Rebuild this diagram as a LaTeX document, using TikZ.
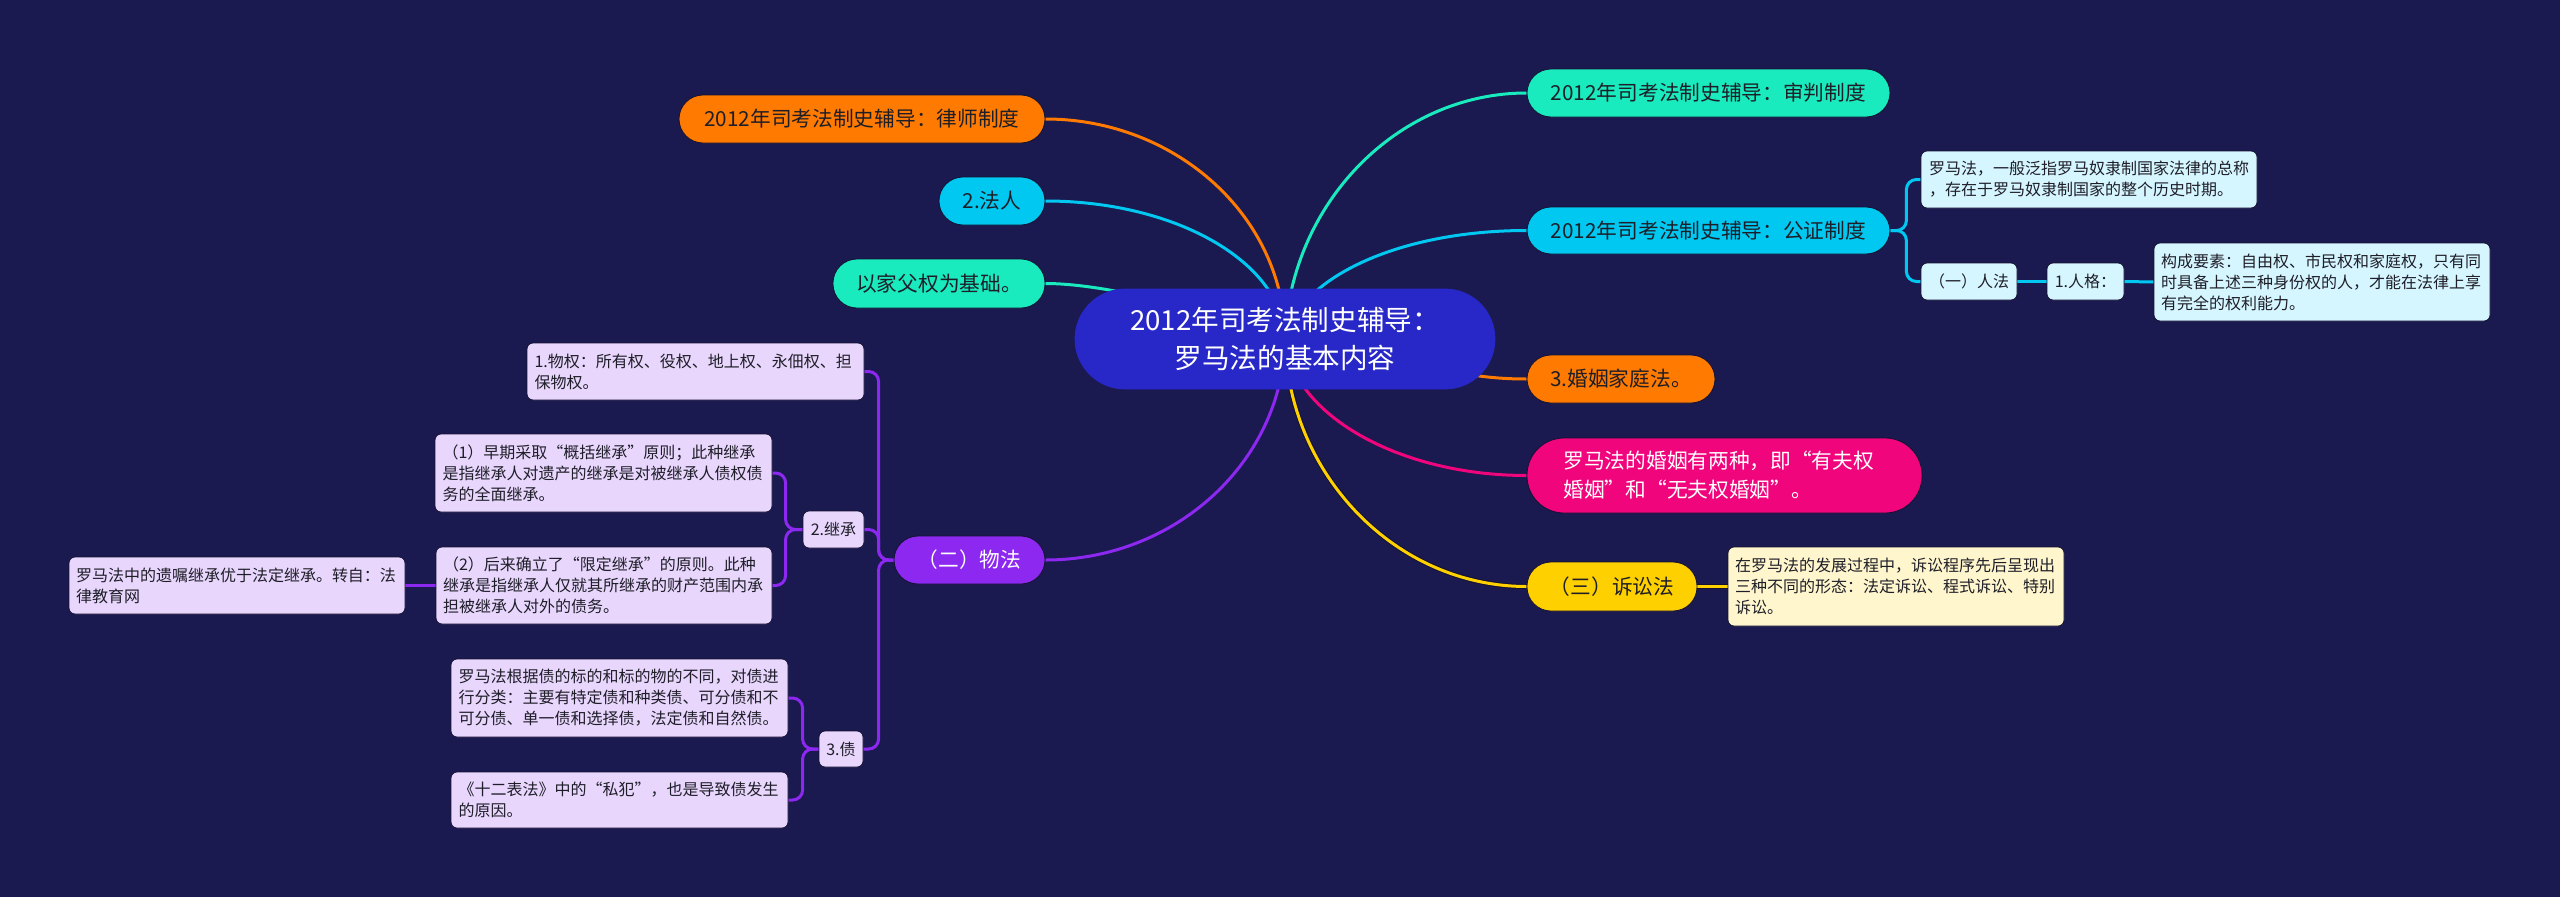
\documentclass[tikz,border=0pt]{standalone}
\usepackage{fontspec}
\setmainfont{Noto Sans CJK SC}
\usetikzlibrary{calc}
\pgfdeclarelayer{bgfill}
\pgfdeclarelayer{edges}
\pgfsetlayers{bgfill,edges,main}
\definecolor{bgc}{RGB}{26,25,80}
\definecolor{rootc}{RGB}{40,40,200}
\definecolor{orangec}{RGB}{255,122,0}
\definecolor{cyanc}{RGB}{0,200,240}
\definecolor{tealc}{RGB}{25,235,190}
\definecolor{pinkc}{RGB}{240,5,125}
\definecolor{yellowc}{RGB}{255,208,0}
\definecolor{purplec}{RGB}{140,40,240}
\definecolor{lavc}{RGB}{232,214,252}
\definecolor{lcyanc}{RGB}{214,246,255}
\definecolor{lyelc}{RGB}{255,246,205}
\definecolor{txtdark}{RGB}{30,30,40}
\definecolor{edgedark}{RGB}{20,18,50}
\tikzset{
  base/.style={rectangle, inner sep=0pt, align=center, draw=edgedark, line width=0.8pt},
  pill/.style={base, rounded corners=24pt, font=\fontsize{20.7}{29}\selectfont, text=txtdark},
  sbox/.style={base, rounded corners=6pt, font=\fontsize{16}{21}\selectfont, text=txtdark},
  conn/.style={line width=3pt},
  elbow/.style={line width=3pt, rounded corners=10pt},
}
\begin{document}
\begin{tikzpicture}[x=1pt,y=-1pt]
\begin{pgfonlayer}{bgfill}
\fill[bgc] (0,0) rectangle (2560,897);
\end{pgfonlayer}
\useasboundingbox (0,0) rectangle (2560,897);

% root
\node[base, fill=rootc, draw=rootc, rounded corners=50pt, minimum width=420, minimum height=100,
      text=white, font=\fontsize{27.6}{38}\selectfont] (root) at (1285,339)
      {2012年司考法制史辅导：\\罗马法的基本内容};

% left main branches
\node[pill, fill=orangec, minimum width=366, minimum height=48] (lawyer) at (862,119) {2012年司考法制史辅导：律师制度};
\node[pill, fill=cyanc, minimum width=106, minimum height=48] (faren) at (992,201) {2.法人};
\node[pill, fill=tealc, minimum width=212, minimum height=49] (jiafu) at (939,283.5) {以家父权为基础。};
\node[pill, fill=purplec, text=white, minimum width=151, minimum height=48] (wufa) at (969.5,560) {（二）物法};

% right main branches
\node[pill, fill=tealc, minimum width=363, minimum height=48] (shenpan) at (1708.5,93) {2012年司考法制史辅导：审判制度};
\node[pill, fill=cyanc, minimum width=363, minimum height=47] (gongzheng) at (1708.5,230.5) {2012年司考法制史辅导：公证制度};
\node[pill, fill=orangec, minimum width=188, minimum height=48] (hunyin) at (1621,379) {3.婚姻家庭法。};
\node[pill, fill=pinkc, text=white, rounded corners=37pt, align=left, text width=322, minimum width=395, minimum height=75] (pinkn) at (1724.5,475.5)
  {罗马法的婚姻有两种，即“有夫权\\婚姻”和“无夫权婚姻”。};
\node[pill, fill=yellowc, minimum width=170, minimum height=49] (susong) at (1612,586.5) {（三）诉讼法};

% right sub nodes
\node[sbox, fill=lcyanc, align=left, text width=320, minimum width=336, minimum height=57] (luomafa) at (2089,179.5)
  {罗马法，一般泛指罗马奴隶制国家法律的总称\\，存在于罗马奴隶制国家的整个历史时期。};
\node[sbox, fill=lcyanc, minimum width=96, minimum height=37] (renfa) at (1969,281.5) {（一）人法};
\node[sbox, fill=lcyanc, minimum width=77, minimum height=37] (renge) at (2085.5,281.5) {1.人格：};
\node[sbox, fill=lcyanc, align=left, text width=322, minimum width=336, minimum height=78] (goucheng) at (2322,282)
  {构成要素：自由权、市民权和家庭权，只有同\\时具备上述三种身份权的人，才能在法律上享\\有完全的权利能力。};
\node[sbox, fill=lyelc, align=left, text width=322, minimum width=336, minimum height=79] (susongbox) at (1896,586.5)
  {在罗马法的发展过程中，诉讼程序先后呈现出\\三种不同的形态：法定诉讼、程式诉讼、特别\\诉讼。};

% left sub nodes
\node[sbox, fill=lavc, align=left, text width=322, minimum width=337, minimum height=57] (wuquan) at (695.5,371.5)
  {1.物权：所有权、役权、地上权、永佃权、担\\保物权。};
\node[sbox, fill=lavc, minimum width=61, minimum height=37] (jicheng) at (833.5,529.5) {2.继承};
\node[sbox, fill=lavc, align=left, text width=322, minimum width=337, minimum height=78] (boxa) at (603.5,473)
  {（1）早期采取“概括继承”原则；此种继承\\是指继承人对遗产的继承是对被继承人债权债\\务的全面继承。};
\node[sbox, fill=lavc, align=left, text width=322, minimum width=336, minimum height=77] (boxb) at (604,585.5)
  {（2）后来确立了“限定继承”的原则。此种\\继承是指继承人仅就其所继承的财产范围内承\\担被继承人对外的债务。};
\node[sbox, fill=lavc, align=left, text width=322, minimum width=336, minimum height=57] (yizhu) at (237,585.5)
  {罗马法中的遗嘱继承优于法定继承。转自：法\\律教育网};
\node[sbox, fill=lavc, minimum width=44, minimum height=36] (zhai) at (841,749) {3.债};
\node[sbox, fill=lavc, align=left, text width=322, minimum width=337, minimum height=78] (genju) at (619.5,698)
  {罗马法根据债的标的和标的物的不同，对债进\\行分类：主要有特定债和种类债、可分债和不\\可分债、单一债和选择债，法定债和自然债。};
\node[sbox, fill=lavc, align=left, text width=322, minimum width=337, minimum height=56] (shier) at (619.5,800)
  {《十二表法》中的“私犯”，也是导致债发生\\的原因。};

\begin{pgfonlayer}{edges}
% root connectors
\draw[conn, orangec] (root.center) .. controls (1285,218) and (1177,119) .. (lawyer.east);
\draw[conn, cyanc] (root.center) .. controls (1283,263) and (1177,201) .. (faren.east);
\draw[conn, tealc] (jiafu.east) .. controls (1105,283.5) and (1205,309) .. (root.center);
\draw[conn, tealc] (root.center) .. controls (1290,204) and (1397,93) .. (shenpan.west);
\draw[conn, cyanc] (root.center) .. controls (1298,279) and (1397,230.5) .. (gongzheng.west);
\draw[conn, orangec] (root.center) .. controls (1400,339) and (1420,379) .. (hunyin.west);
\draw[conn, pinkc] (root.center) .. controls (1292,414) and (1398,475.5) .. (pinkn.west);
\draw[line width=5pt, edgedark] (root.center) .. controls (1288,475) and (1396,586.5) .. (susong.west);
\draw[conn, yellowc] (root.center) .. controls (1288,475) and (1396,586.5) .. (susong.west);
\draw[conn, purplec] (root.center) .. controls (1283,461) and (1176,560) .. (wufa.east);
% right sub connectors
\draw[elbow, cyanc] (gongzheng.east) -- ++(16,0) |- (luomafa.west);
\draw[elbow, cyanc] (gongzheng.east) -- ++(16,0) |- (renfa.west);
\draw[conn, cyanc] (renfa.east) -- (renge.west);
\draw[conn, cyanc] (renge.east) -- (goucheng.west);
\draw[line width=5pt, edgedark] (susong.east) -- (susongbox.west);
\draw[conn, yellowc] (susong.east) -- (susongbox.west);
% left sub connectors
\draw[elbow, purplec] (wufa.west) -- ++(-15,0) |- (wuquan.east);
\draw[elbow, purplec] (wufa.west) -- ++(-15,0) |- (jicheng.east);
\draw[elbow, purplec] (wufa.west) -- ++(-15,0) |- (zhai.east);
\draw[elbow, purplec] (jicheng.west) -- ++(-17,0) |- (boxa.east);
\draw[elbow, purplec] (jicheng.west) -- ++(-17,0) |- (boxb.east);
\draw[conn, purplec] (boxb.west) -- (yizhu.east);
\draw[elbow, purplec] (zhai.west) -- ++(-16,0) |- (genju.east);
\draw[elbow, purplec] (zhai.west) -- ++(-16,0) |- (shier.east);
\end{pgfonlayer}
\end{tikzpicture}
\end{document}
